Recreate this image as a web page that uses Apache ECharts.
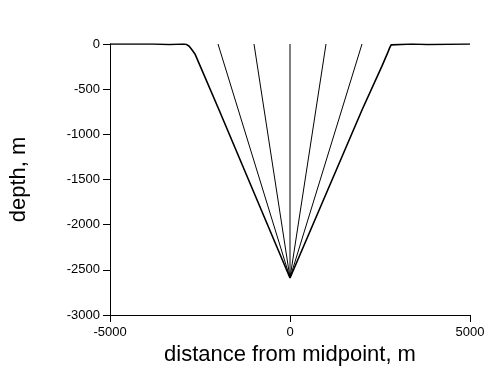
<!DOCTYPE html>
<html>
<head>
<meta charset="utf-8">
<script src="https://cdn.jsdelivr.net/npm/echarts@6/dist/echarts.min.js"></script>
<style>
html,body{margin:0;padding:0;background:#fff;}
#chart{width:494px;height:377px;}
</style>
</head>
<body>
<div id="chart"></div>
<script>
// Data
const xTicks = [-5000, 0, 5000];
const yTicks = [-3000, -2500, -2000, -1500, -1000, -500, 0];
const apexX = 0;
const apexDepth = -2590;
// valley / canyon profile (distance, depth)
const profileX = [-5000, -3820, -3800, -3350, -3330, -2950, -2870, -2800, -2730, -2640, -1970, 0, 2000, 2560, 2700, 2770, 2810, 2850, 3380, 3400, 3820, 3840, 5000];
const profileY = [0, 0, -5, -5, 0, 0, -6, -25, -60, -110, -731, -2590, -731, -240, -110, -40, -10, 0, 0, -5, -5, 0, 0];
// rays from the apex to the surface
const rayTopX = [-2000, -1000, 0, 1000, 2000];
const rayTopY = [0, 0, 0, 0, 0];

const font = '"Liberation Sans", Arial, Helvetica, sans-serif';
const chart = echarts.init(document.getElementById('chart'), null, {renderer: 'canvas'});

const series = [{
  type: 'line',
  data: profileX.map((x, i) => [x, profileY[i]]),
  symbol: 'none',
  lineStyle: {color: '#000', width: 1.6},
  z: 3
}];
rayTopX.forEach((x, i) => {
  series.push({
    type: 'line',
    data: [[apexX, apexDepth], [x, rayTopY[i]]],
    symbol: 'none',
    lineStyle: {color: '#000', width: 1}
  });
});

chart.setOption({
  animation: false,
  backgroundColor: '#fff',
  grid: {left: 109, right: 24, top: 44, bottom: 62},
  xAxis: {
    type: 'value',
    min: xTicks[0], max: xTicks[xTicks.length - 1], interval: 5000,
    name: 'distance from midpoint, m',
    nameLocation: 'middle', nameGap: 22,
    nameTextStyle: {fontFamily: font, fontSize: 22, color: '#000'},
    axisLine: {onZero: false, lineStyle: {color: '#000', width: 1}},
    axisTick: {show: true, inside: false, length: 7, lineStyle: {color: '#000'}},
    axisLabel: {fontFamily: font, fontSize: 13, color: '#000', margin: 11, formatter: v => String(v)},
    splitLine: {show: false}
  },
  yAxis: {
    type: 'value',
    min: yTicks[0], max: yTicks[yTicks.length - 1], interval: 500,
    name: 'depth, m',
    nameLocation: 'middle', nameGap: 80, nameRotate: 90,
    nameTextStyle: {fontFamily: font, fontSize: 22, color: '#000'},
    axisLine: {show: true, onZero: false, lineStyle: {color: '#000', width: 1}},
    axisTick: {show: true, inside: false, length: 7, lineStyle: {color: '#000'}},
    axisLabel: {fontFamily: font, fontSize: 13, color: '#000', margin: 10, formatter: v => String(v)},
    splitLine: {show: false}
  },
  series: series
});
</script>
</body>
</html>
